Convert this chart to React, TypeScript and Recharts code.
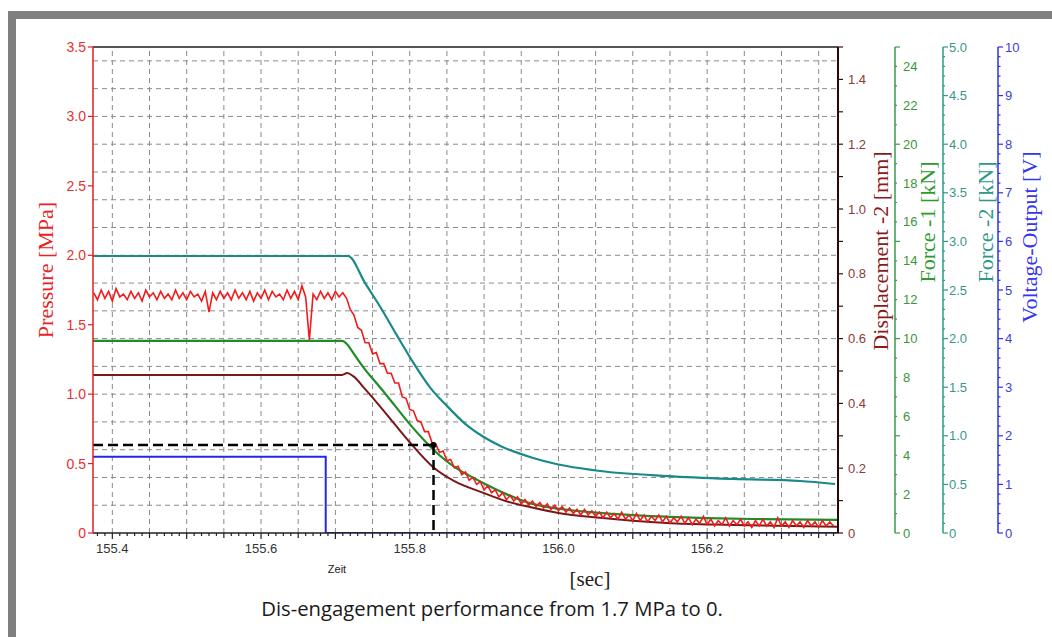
import React from 'react';
import { LineChart, Line, XAxis, YAxis, ReferenceLine, ReferenceDot } from 'recharts';

// axis labels
const TIME_LABELS = [155.4, 155.6, 155.8, 156.0, 156.2];
const PRESSURE_LABELS = [0, 0.5, 1.0, 1.5, 2.0, 2.5, 3.0, 3.5];
const DISP_LABELS = [0, 0.2, 0.4, 0.6, 0.8, 1.0, 1.2, 1.4];
const FORCE1_LABELS = [0, 2, 4, 6, 8, 10, 12, 14, 16, 18, 20, 22, 24];
const FORCE2_LABELS = [0, 0.5, 1.0, 1.5, 2.0, 2.5, 3.0, 3.5, 4.0, 4.5, 5.0];
const VOLT_LABELS = [0, 1, 2, 3, 4, 5, 6, 7, 8, 9, 10];

const X_DOMAIN = [155.374, 156.376];

// pressure logger samples, one every 5 ms from 155.375 s
const PRESSURE_T0 = 155.375;
const PRESSURE_DT = 0.005;
const PRESSURE_MPA = [
  1.73, 1.68, 1.75, 1.69, 1.74, 1.67, 1.76, 1.70, 1.72, 1.68,
  1.74, 1.69, 1.73, 1.67, 1.75, 1.70, 1.73, 1.68, 1.74, 1.69,
  1.72, 1.68, 1.75, 1.69, 1.73, 1.68, 1.74, 1.70, 1.72, 1.67,
  1.74, 1.59, 1.73, 1.68, 1.74, 1.69, 1.73, 1.68, 1.75, 1.69,
  1.73, 1.68, 1.74, 1.67, 1.73, 1.69, 1.75, 1.68, 1.74, 1.70,
  1.72, 1.68, 1.75, 1.69, 1.74, 1.68, 1.78, 1.70, 1.39, 1.72,
  1.68, 1.74, 1.69, 1.73, 1.68, 1.74, 1.70, 1.73,
  1.69, 1.61, 1.57, 1.48, 1.46, 1.37, 1.37, 1.29, 1.30, 1.22,
  1.22, 1.15, 1.15, 1.08, 1.08, 0.98, 0.97, 0.89, 0.88, 0.81,
  0.80, 0.73, 0.73, 0.65, 0.64, 0.58, 0.59, 0.52, 0.53, 0.47,
  0.48, 0.42, 0.44, 0.38, 0.40, 0.35, 0.37, 0.31, 0.34, 0.29,
  0.31, 0.26, 0.29, 0.24, 0.27, 0.23, 0.26, 0.21, 0.24, 0.20,
  0.23, 0.19, 0.22, 0.18, 0.21, 0.17, 0.20, 0.16, 0.19, 0.15,
  0.18, 0.14, 0.17, 0.13, 0.17, 0.13, 0.16, 0.12, 0.15, 0.11,
  0.15, 0.11, 0.14, 0.10, 0.15, 0.10, 0.13, 0.09, 0.14, 0.09,
  0.13, 0.08, 0.12, 0.09, 0.13, 0.08, 0.12, 0.07, 0.11, 0.08,
  0.12, 0.07, 0.11, 0.06, 0.10, 0.07, 0.12, 0.06, 0.10, 0.05,
  0.09, 0.06, 0.11, 0.05, 0.09, 0.06, 0.10, 0.05, 0.08, 0.04,
  0.09, 0.05, 0.10, 0.05, 0.08, 0.04, 0.11, 0.05, 0.08, 0.04,
  0.09, 0.05, 0.08, 0.04, 0.09, 0.05, 0.08, 0.04, 0.09, 0.05,
  0.08, 0.05,
];

const FORCE1_T = [155.374, 155.709, 155.716, 155.724, 155.74, 155.76, 155.78, 155.8, 155.82, 155.84, 155.86, 155.88, 155.9, 155.93, 155.96, 156.0, 156.05, 156.1, 156.15, 156.2, 156.26, 156.376];
const FORCE1_KN = [9.88, 9.88, 9.7, 9.26, 8.4, 7.5, 6.55, 5.6, 4.75, 4.0, 3.4, 2.95, 2.55, 2.0, 1.55, 1.25, 1.05, 0.92, 0.83, 0.77, 0.72, 0.67];

const DISP_T = [155.374, 155.709, 155.716, 155.724, 155.74, 155.76, 155.78, 155.8, 155.832, 155.86, 155.899, 155.93, 155.966, 156.0, 156.056, 156.1, 156.146, 156.235, 156.376];
const DISP_MM = [0.488, 0.488, 0.494, 0.484, 0.444, 0.391, 0.335, 0.28, 0.202, 0.16, 0.124, 0.098, 0.078, 0.062, 0.047, 0.038, 0.031, 0.025, 0.019];

const FORCE2_T = [155.374, 155.717, 155.74, 155.76, 155.783, 155.805, 155.828, 155.851, 155.875, 155.899, 155.922, 155.966, 156.011, 156.056, 156.147, 156.235, 156.325, 156.372];
const FORCE2_KN = [2.85, 2.85, 2.57, 2.33, 2.03, 1.75, 1.49, 1.30, 1.12, 0.99, 0.895, 0.772, 0.689, 0.638, 0.586, 0.556, 0.535, 0.504];

const VOLT_T = [155.374, 155.687, 155.687, 156.376];
const VOLT_V = [1.57, 1.57, 0, 0];

// 0.63 MPa marker
const MARK_T = 155.832;
const MARK_P = 0.634;

const zip = (ts: number[], vs: number[]) => ts.map((t, i) => ({ t, v: vs[i] }));
const pressureData = PRESSURE_MPA.map((v, i) => ({ t: +(PRESSURE_T0 + i * PRESSURE_DT).toFixed(3), v }));
const force1Data = zip(FORCE1_T, FORCE1_KN);
const dispData = zip(DISP_T, DISP_MM);
const force2Data = zip(FORCE2_T, FORCE2_KN);
const voltData = zip(VOLT_T, VOLT_V);

const range = (lo: number, hi: number, step: number) => {
  const out: number[] = [];
  for (let i = 0; lo + i * step <= hi + 1e-9; i++) out.push(+(lo + i * step).toFixed(4));
  return out;
};
const near = (a: number, b: number) => Math.abs(a - b) < 1e-6;
const isMult = (v: number, s: number) => near(v / s, Math.round(v / s));

const SANS = "'Liberation Sans', Arial, sans-serif";
const SERIF = "'Liberation Serif', 'Times New Roman', serif";

type TickCfg = {
  side: 'left' | 'right';
  line: string;
  text: string;
  labels: number[];
  major: number;
  majorLen: number;
  minorLen: number;
  gap: number;
  size: number;
  fmt: (v: number) => string;
};

function yTick(cfg: TickCfg) {
  return (p: any) => {
    const v = p.payload.value;
    const dir = cfg.side === 'left' ? -1 : 1;
    const len = isMult(v, cfg.major) ? cfg.majorLen : cfg.minorLen;
    const lab = cfg.labels.some((l) => near(l, v));
    return (
      <g>
        <line x1={p.x} y1={p.y} x2={p.x + dir * len} y2={p.y} stroke={cfg.line} strokeWidth={1.2} />
        {lab && (
          <text
            x={p.x + dir * cfg.gap}
            y={p.y}
            textAnchor={dir < 0 ? 'end' : 'start'}
            dominantBaseline="central"
            fill={cfg.text}
            fontSize={cfg.size}
            fontFamily={SANS}
          >
            {cfg.fmt(v)}
          </text>
        )}
      </g>
    );
  };
}

const oneDec = (v: number) => (v === 0 ? '0' : v.toFixed(1));

function XTick(p: any) {
  const v = p.payload.value;
  const len = isMult(v, 0.1) ? 6 : isMult(v, 0.05) ? 5 : 3;
  const lab = TIME_LABELS.some((l) => near(l, v));
  return (
    <g>
      <line x1={p.x} y1={p.y} x2={p.x} y2={p.y + len} stroke="#222" strokeWidth={1.2} />
      {lab && (
        <text x={p.x} y={p.y + 15} textAnchor="middle" dominantBaseline="central" fill="#333" fontSize={13} fontFamily={SANS}>
          {v.toFixed(1)}
        </text>
      )}
    </g>
  );
}

const RED = '#f01c1c';
const MAROON = '#7a1818';
const GREEN = '#1f8c2a';
const TEAL = '#1a8a88';
const BLUE = '#2424ee';

export default function App() {
  const hGrid = range(0.2, 3.4, 0.2);
  const vGrid = range(155.4, 156.35, 0.05);
  return (
    <div style={{ position: 'absolute', left: 0, top: 0, width: 1052, height: 637, background: '#fff', overflow: 'hidden' }}>
      <div style={{ position: 'absolute', left: 8, top: 11, width: 1044, height: 8, background: '#7f7f7f' }} />
      <div style={{ position: 'absolute', left: 8, top: 11, width: 8, height: 626, background: '#7f7f7f' }} />
      <div style={{ position: 'absolute', left: 0, top: 0 }}>
        <LineChart width={1052} height={637} margin={{ top: 47, right: 9, bottom: 74, left: 48 }}>
          <XAxis
            dataKey="t"
            type="number"
            domain={X_DOMAIN}
            allowDataOverflow
            ticks={range(155.38, 156.37, 0.01)}
            interval={0}
            tickSize={0}
            tickMargin={0}
            height={30}
            tickLine={false}
            axisLine={{ stroke: '#222', strokeWidth: 1.5 }}
            tick={XTick}
          />
          <YAxis
            yAxisId="p"
            orientation="left"
            width={45}
            domain={[0, 3.5]}
            allowDataOverflow
            ticks={PRESSURE_LABELS}
            interval={0}
            tickSize={0}
            tickMargin={0}
            tickLine={false}
            axisLine={{ stroke: '#e02020', strokeWidth: 1.5 }}
            tick={yTick({ side: 'left', line: '#e02020', text: '#e63030', labels: PRESSURE_LABELS, major: 0.5, majorLen: 5, minorLen: 5, gap: 7, size: 14, fmt: oneDec })}
          />
          <YAxis
            yAxisId="d"
            orientation="right"
            width={57}
            domain={[0, 1.5]}
            allowDataOverflow
            ticks={range(0, 1.5, 0.1)}
            interval={0}
            tickSize={0}
            tickMargin={0}
            tickLine={false}
            axisLine={{ stroke: '#2a0808', strokeWidth: 2 }}
            tick={yTick({ side: 'right', line: '#3a1010', text: '#8c3a3a', labels: DISP_LABELS, major: 0.1, majorLen: 5, minorLen: 5, gap: 10, size: 13, fmt: oneDec })}
          />
          <YAxis
            yAxisId="f1"
            orientation="right"
            width={48}
            domain={[0, 25]}
            allowDataOverflow
            ticks={range(0, 25, 1)}
            interval={0}
            tickSize={0}
            tickMargin={0}
            tickLine={false}
            axisLine={{ stroke: '#3a9a48', strokeWidth: 1.5 }}
            tick={yTick({ side: 'right', line: '#3a9a48', text: '#3a963a', labels: FORCE1_LABELS, major: 5, majorLen: 5, minorLen: 2, gap: 8, size: 13, fmt: (v) => String(v) })}
          />
          <YAxis
            yAxisId="f2"
            orientation="right"
            width={55}
            domain={[0, 5]}
            allowDataOverflow
            ticks={range(0, 5, 0.1)}
            interval={0}
            tickSize={0}
            tickMargin={0}
            tickLine={false}
            axisLine={{ stroke: '#2a9a8a', strokeWidth: 1.5 }}
            tick={yTick({ side: 'right', line: '#2a9a8a', text: '#3a968c', labels: FORCE2_LABELS, major: 0.5, majorLen: 5, minorLen: 2, gap: 6, size: 13, fmt: oneDec })}
          />
          <YAxis
            yAxisId="v"
            orientation="right"
            width={45}
            domain={[0, 10]}
            allowDataOverflow
            ticks={range(0, 10, 0.2)}
            interval={0}
            tickSize={0}
            tickMargin={0}
            tickLine={false}
            axisLine={{ stroke: '#3030e0', strokeWidth: 1.5 }}
            tick={yTick({ side: 'right', line: '#3030e0', text: '#3c3ce0', labels: VOLT_LABELS, major: 1, majorLen: 5, minorLen: 2.5, gap: 7, size: 13, fmt: (v) => String(v) })}
          />

          {hGrid.map((g) => (
            <ReferenceLine key={'h' + g} yAxisId="p" y={g} stroke="#8a8a8a" strokeDasharray="5 4" />
          ))}
          {vGrid.map((g) => (
            <ReferenceLine key={'v' + g} yAxisId="p" x={g} stroke="#8a8a8a" strokeDasharray="5 4" />
          ))}
          <ReferenceLine yAxisId="p" y={3.5} stroke="#555" strokeWidth={2} />

          <Line yAxisId="v" data={voltData} dataKey="v" type="linear" stroke={BLUE} strokeWidth={2} dot={false} isAnimationActive={false} />
          <Line yAxisId="f2" data={force2Data} dataKey="v" type="monotone" stroke={TEAL} strokeWidth={2.2} dot={false} isAnimationActive={false} />
          <Line yAxisId="d" data={dispData} dataKey="v" type="monotone" stroke={MAROON} strokeWidth={2} dot={false} isAnimationActive={false} />
          <Line yAxisId="f1" data={force1Data} dataKey="v" type="monotone" stroke={GREEN} strokeWidth={2.2} dot={false} isAnimationActive={false} />
          <Line yAxisId="p" data={pressureData} dataKey="v" type="linear" stroke={RED} strokeWidth={1.6} dot={false} isAnimationActive={false} />

          <ReferenceLine
            yAxisId="p"
            segment={[{ x: X_DOMAIN[0], y: MARK_P }, { x: MARK_T, y: MARK_P }]}
            stroke="#000"
            strokeWidth={2.5}
            strokeDasharray="10 5"
          />
          <ReferenceLine
            yAxisId="p"
            segment={[{ x: MARK_T, y: MARK_P }, { x: MARK_T, y: 0 }]}
            stroke="#000"
            strokeWidth={2.5}
            strokeDasharray="10 5"
          />
          <ReferenceDot yAxisId="p" x={MARK_T} y={MARK_P} r={3} fill="#000" stroke="none" />
        </LineChart>
      </div>
      <svg width={1052} height={637} style={{ position: 'absolute', left: 0, top: 0, pointerEvents: 'none' }}>
        <text transform="translate(45,270) rotate(-90)" textAnchor="middle" dominantBaseline="central" fontFamily={SERIF} fontSize={22} fill="#e82222">
          Pressure [MPa]
        </text>
        <text transform="translate(880,251) rotate(-90)" textAnchor="middle" dominantBaseline="central" fontFamily={SERIF} fontSize={22} fill="#8b1a1a">
          Displacement -2 [mm]
        </text>
        <text transform="translate(927,222) rotate(-90)" textAnchor="middle" dominantBaseline="central" fontFamily={SERIF} fontSize={22} fill="#2e9a2e">
          Force -1 [kN]
        </text>
        <text transform="translate(985,222) rotate(-90)" textAnchor="middle" dominantBaseline="central" fontFamily={SERIF} fontSize={22} fill="#2a9a8a">
          Force -2 [kN]
        </text>
        <text transform="translate(1029,237) rotate(-90)" textAnchor="middle" dominantBaseline="central" fontFamily={SERIF} fontSize={22} fill="#3535ee">
          Voltage-Output [V]
        </text>
        <text x={337} y={569} textAnchor="middle" dominantBaseline="central" fontFamily={SANS} fontSize={11} fill="#222">
          Zeit
        </text>
        <text x={590} y={579} textAnchor="middle" dominantBaseline="central" fontFamily={SERIF} fontSize={21} fill="#222">
          [sec]
        </text>
        <text x={492} y={608} textAnchor="middle" dominantBaseline="central" fontFamily="'Open Sans', 'Noto Sans', sans-serif" fontSize={20.3} fill="#1a1a1a">
          Dis-engagement performance from 1.7 MPa to 0.
        </text>
      </svg>
    </div>
  );
}
